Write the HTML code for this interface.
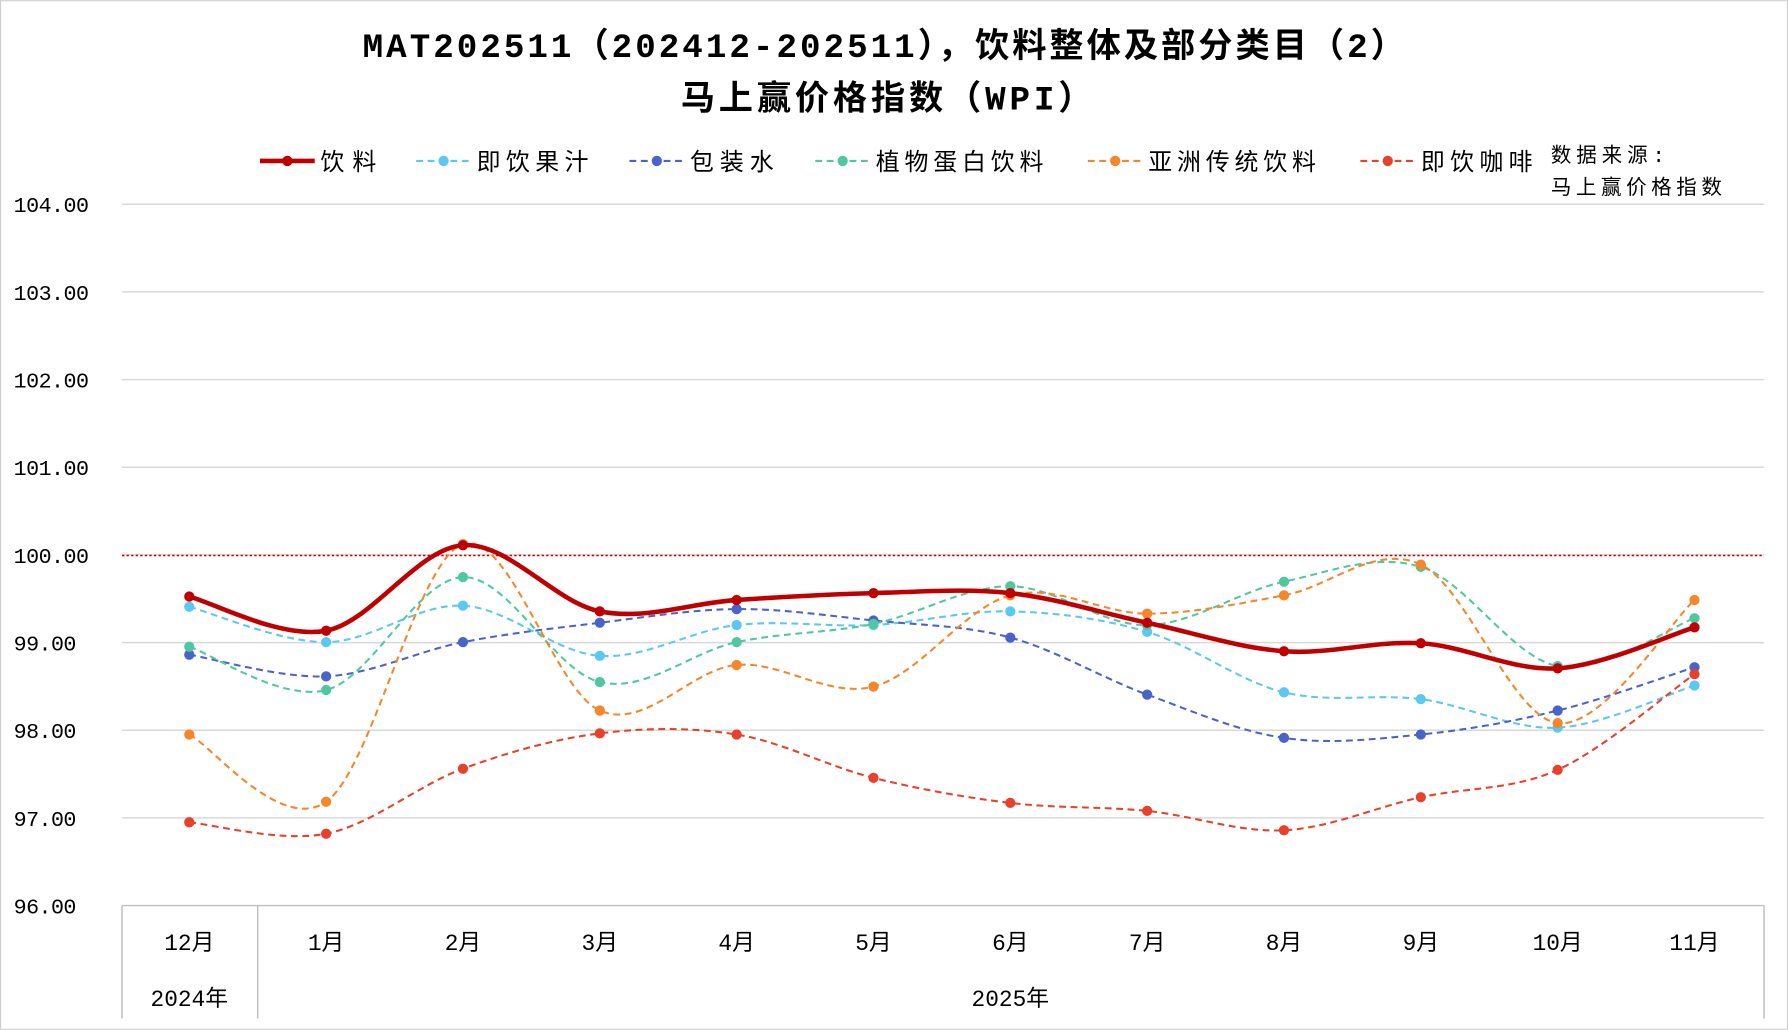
<!DOCTYPE html>
<html><head><meta charset="utf-8">
<style>
html,body{margin:0;padding:0;background:#fff;}
svg{display:block;}
text{font-family:"Liberation Mono","Noto Sans CJK SC",monospace;fill:#000;}
</style></head>
<body>
<svg id="c" width="1788" height="1030" viewBox="0 0 1568 903" xmlns="http://www.w3.org/2000/svg">
<rect x="0.5" y="0.5" width="1567" height="902" fill="#fff" stroke="#d0d0d0"/>
<text x="318" y="50" font-size="30" font-weight="bold" textLength="914" lengthAdjust="spacing">MAT202511（202412-202511），饮料整体及部分类目（2）</text>
<text x="597" y="96" font-size="30" font-weight="bold" textLength="361" lengthAdjust="spacing">马上赢价格指数（WPI）</text>
<g id="grid" stroke="#d9d9d9" stroke-width="1.3"></g>
<line x1="107" y1="487" x2="1547" y2="487" stroke="#c00000" stroke-width="1.3" stroke-dasharray="2,2"/>
<g id="ylab" font-size="19"></g>
<line x1="107" y1="794" x2="1547" y2="794" stroke="#bfbfbf" stroke-width="1.3"/>
<line x1="107" y1="794" x2="107" y2="893" stroke="#bfbfbf" stroke-width="1.3"/>
<line x1="226" y1="794" x2="226" y2="893" stroke="#bfbfbf" stroke-width="1.3"/>
<line x1="1547" y1="794" x2="1547" y2="893" stroke="#bfbfbf" stroke-width="1.3"/>
<g id="xlab" font-size="20" text-anchor="middle"></g>
<text x="166" y="882" font-size="20" text-anchor="middle">2024年</text>
<text x="886" y="882" font-size="20" text-anchor="middle">2025年</text>
<g id="series"></g>
<g id="legend" font-size="21"></g>
<text x="1360" y="142" font-size="18" textLength="100" lengthAdjust="spacing">数据来源:</text>
<text x="1360" y="170" font-size="18" textLength="150" lengthAdjust="spacing">马上赢价格指数</text>
</svg>
<script>
var NS="http://www.w3.org/2000/svg";
function el(p,t,a,txt){var e=document.createElementNS(NS,t);for(var k in a)e.setAttribute(k,a[k]);if(txt)e.textContent=txt;document.getElementById(p).appendChild(e);return e;}
var labs=["104.00","103.00","102.00","101.00","100.00","99.00","98.00","97.00","96.00"];
for(var i=0;i<9;i++){var y=179+i*76.875;if(i<8)el("grid","line",{x1:107,x2:1547,y1:y,y2:y});el("ylab","text",{x:12,y:y+7,textLength:labs[i].length*11,lengthAdjust:"spacing"},labs[i]);}
var xs=[];for(var i=0;i<12;i++)xs.push(166+120*i);
var ml=["12月","1月","2月","3月","4月","5月","6月","7月","8月","9月","10月","11月"];
for(var i=0;i<12;i++)el("xlab","text",{x:xs[i],y:833},ml[i]);
var S=[
["即饮果汁","#5bc8f0",[532,563,531,575,548,548,536,554,607,613,638,601],0],
["包装水","#4a63c8",[574,593,563,546,534,544,559,609,647,644,623,585],0],
["植物蛋白饮料","#4fc8a0",[567,605,506,598,563,547,514,548,510,497,584,542],0],
["亚洲传统饮料","#f5862a",[644,703,477,623,583,602,522,538,522,495,634,526],0],
["即饮咖啡","#e8402a",[721,731,674,643,644,682,704,711,728,699,675,591],0],
["饮料","#c00000",[523,553,478,536,526,520,520,546,571,564,586,550],1]];
function path(ys){var d="M"+xs[0]+","+ys[0];var t=1/6;
for(var i=0;i<11;i++){var p0=i?i-1:0,p3=i<10?i+2:11;
var c1x=xs[i]+(xs[i+1]-xs[p0])*t,c1y=ys[i]+(ys[i+1]-ys[p0])*t;
var c2x=xs[i+1]-(xs[p3]-xs[i])*t,c2y=ys[i+1]-(ys[p3]-ys[i])*t;
d+=" C"+c1x+","+c1y+" "+c2x+","+c2y+" "+xs[i+1]+","+ys[i+1];}return d;}
S.forEach(function(s){
var w=s[3]?4:1.8;
el("series","path",{d:path(s[2]),fill:"none",stroke:s[1],"stroke-width":w,"stroke-dasharray":s[3]?"none":"6,4"});
s[2].forEach(function(y,i){el("series","circle",{cx:xs[i],cy:y,r:4.5,fill:s[1]});});
});
var L=[["饮料","#c00000",228,1],["即饮果汁","#5bc8f0",365,0],["包装水","#4a63c8",552,0],["植物蛋白饮料","#4fc8a0",715,0],["亚洲传统饮料","#f5862a",954,0],["即饮咖啡","#e8402a",1193,0]];
L.forEach(function(l){var x=l[2],y=141;
el("legend","line",{x1:x,x2:x+48,y1:y,y2:y,stroke:l[1],"stroke-width":l[3]?4:1.8,"stroke-dasharray":l[3]?"none":"6,4"});
el("legend","circle",{cx:x+24,cy:y,r:4.5,fill:l[1]});
el("legend","text",{x:x+53,y:y+8,textLength:l[0].length*24.5,lengthAdjust:"spacing"},l[0]);});
</script>
</body></html>
